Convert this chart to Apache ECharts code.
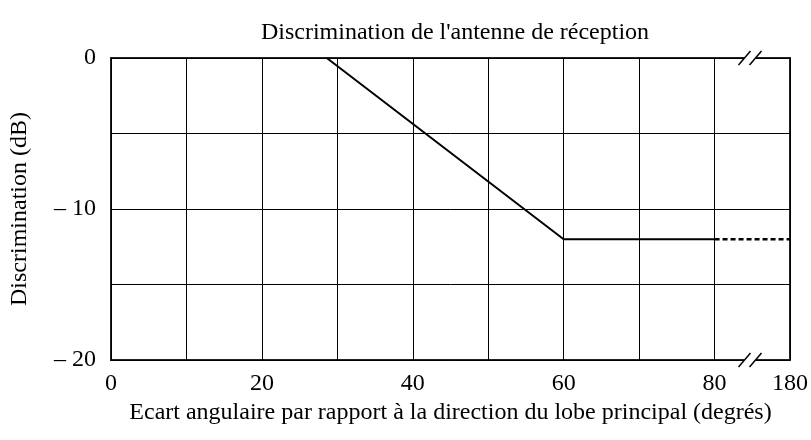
<!DOCTYPE html>
<html>
<head>
<meta charset="utf-8">
<script src="https://cdn.jsdelivr.net/npm/echarts@6/dist/echarts.min.js"></script>
<style>html,body{margin:0;padding:0;background:#fff}#c{width:811px;height:440px}</style>
</head>
<body>
<div id="c"></div>
<script>
// Data
const solidX = [28.6, 60, 80];
const solidY = [0, -12, -12];
const dottedX = [80, 90];        // 90 on the broken axis stands for 180 degrees
const dottedY = [-12, -12];
const xTickValues = [0, 20, 40, 60, 80, 90];
const xTickLabels = ['0', '20', '40', '60', '80', '180'];
const yTickValues = [0, -10, -20];
const yTickLabels = ['0', '\u2013 10', '\u2013 20'];
const breakAt = 84.7;

const font = 'Liberation Serif, Times New Roman, serif';
const fs = 24;
const chart = echarts.init(document.getElementById('c'), null, {renderer: 'canvas'});

function xFmt(v) { const i = xTickValues.indexOf(Math.round(v)); return i >= 0 ? xTickLabels[i] : ''; }
function yFmt(v) { const i = yTickValues.indexOf(Math.round(v)); return i >= 0 ? yTickLabels[i] : ''; }

chart.setOption({
  backgroundColor: '#fff',
  animation: false,
  title: {
    text: "Discrimination de l'antenne de réception",
    left: 450, top: 16, textAlign: 'center',
    textStyle: {fontFamily: font, fontSize: fs, fontWeight: 'normal', color: '#000'}
  },
  grid: {left: 111, top: 58, width: 679, height: 302, show: true, borderColor: '#222', borderWidth: 2, backgroundColor: 'transparent'},
  xAxis: {
    type: 'value', min: 0, max: 90, interval: 10,
    name: 'Ecart angulaire par rapport à la direction du lobe principal (degrés)',
    nameLocation: 'middle', nameGap: 40,
    nameTextStyle: {fontFamily: font, fontSize: fs, color: '#000'},
    axisLine: {show: false}, axisTick: {show: false},
    axisLabel: {formatter: xFmt, fontFamily: font, fontSize: fs, color: '#000', margin: 12},
    splitLine: {show: true, lineStyle: {color: '#000', width: 1}}
  },
  yAxis: {
    type: 'value', min: -20, max: 0, interval: 5,
    name: 'Discrimination (dB)',
    nameLocation: 'middle', nameGap: 79, nameRotate: 90,
    nameTextStyle: {fontFamily: font, fontSize: fs, color: '#000'},
    axisLine: {show: false}, axisTick: {show: false},
    axisLabel: {formatter: yFmt, fontFamily: font, fontSize: fs, color: '#000', margin: 15},
    splitLine: {show: true, lineStyle: {color: '#000', width: 1}}
  },
  series: [
    {type: 'line', data: solidX.map((x, i) => [x, solidY[i]]), symbol: 'none',
     lineStyle: {color: '#000', width: 2}, z: 5},
    {type: 'line', data: dottedX.map((x, i) => [x, dottedY[i]]), symbol: 'none',
     lineStyle: {color: '#000', width: 2.5, type: [5, 3]}, z: 5}
  ]
});

function breakMarks(yVal) {
  const p = chart.convertToPixel({gridIndex: 0}, [breakAt, yVal]);
  const cx = p[0], cy = p[1];
  const els = [];
  els.push({type: 'rect', shape: {x: cx - 6, y: cy - 2, width: 12, height: 4}, style: {fill: '#fff'}, z: 10});
  [-5.5, 5.5].forEach(dx => {
    els.push({type: 'line', shape: {x1: cx + dx - 6, y1: cy + 7, x2: cx + dx + 6, y2: cy - 7},
      style: {stroke: '#000', lineWidth: 1.5}, z: 11});
  });
  return els;
}
chart.setOption({graphic: breakMarks(0).concat(breakMarks(-20))});
</script>
</body>
</html>
